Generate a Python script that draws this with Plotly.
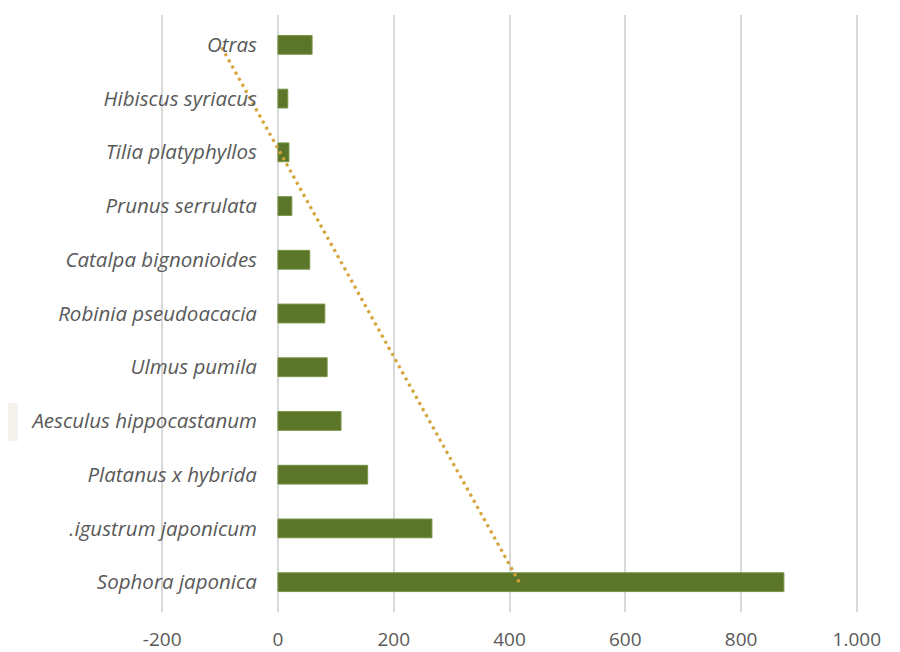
import numpy as np
import plotly.graph_objects as go

# Data (bottom to top as in the source chart)
species = ["Sophora japonica", ".igustrum japonicum", "Platanus x hybrida",
           "Aesculus hippocastanum", "Ulmus pumila", "Robinia pseudoacacia",
           "Catalpa bignonioides", "Prunus serrulata", "Tilia platyphyllos",
           "Hibiscus syriacus", "Otras"]
counts = [874, 266, 155, 109, 85, 81, 55, 24, 19, 17, 59]
x_ticks = [-200, 0, 200, 400, 600, 800, 1000]
x_tick_labels = ["-200", "0", "200", "400", "600", "800", "1.000"]

# Linear trend (Excel style: index 1..n)
idx = np.arange(1, len(counts) + 1)
slope, intercept = np.polyfit(idx, counts, 1)
trend = slope * idx + intercept

W, H = 884, 644
x_min, x_max = -202, 1002
ml, mr, mt, mb = 153, 34, 7, 40
plot_w = W - ml - mr
plot_h = H - mt - mb
zero_pos = (0 - x_min) / (x_max - x_min)

fig = go.Figure()
fig.add_trace(go.Bar(
    x=counts, y=species, orientation="h",
    marker=dict(color="#5B7628", line=dict(color="#7A9448", width=1)),
    showlegend=False, hoverinfo="x+y",
))
fig.add_trace(go.Scatter(
    x=trend, y=species, mode="lines",
    line=dict(color="#D4A43A", width=3.2, dash="3px,4px"),
    showlegend=False, hoverinfo="skip",
))

fig.update_layout(
    template="none",
    width=W, height=H,
    margin=dict(l=ml, r=mr, t=mt, b=mb, autoexpand=False),
    paper_bgcolor="white", plot_bgcolor="white",
    bargap=0.65,
    font=dict(family="Open Sans, Lato, sans-serif", color="#595959"),
    xaxis=dict(
        range=[x_min, x_max], tickvals=x_ticks, ticktext=x_tick_labels,
        showgrid=True, gridcolor="#D9D9D9", gridwidth=1.5,
        zeroline=False, showline=False, ticks="",
        ticklabelstandoff=14,
        tickfont=dict(size=19, color="#595959"),
        automargin=False, fixedrange=True,
    ),
    yaxis=dict(
        type="category", categoryorder="array", categoryarray=species,
        anchor="free", position=zero_pos,
        showgrid=False, zeroline=False, showline=False, ticks="",
        ticklabelstandoff=21,
        tickfont=dict(size=20.5, color="#595959", style="italic"),
        automargin=False, fixedrange=True,
    ),
    shapes=[dict(
        type="rect", xref="paper", yref="paper",
        x0=(0 - ml) / plot_w, x1=(10 - ml) / plot_w,
        y0=(H - mb - 433) / plot_h, y1=(H - mb - 395) / plot_h,
        fillcolor="#F5F1EC", line=dict(width=0), layer="below",
    )],
)

fig.write_html("out.html")
